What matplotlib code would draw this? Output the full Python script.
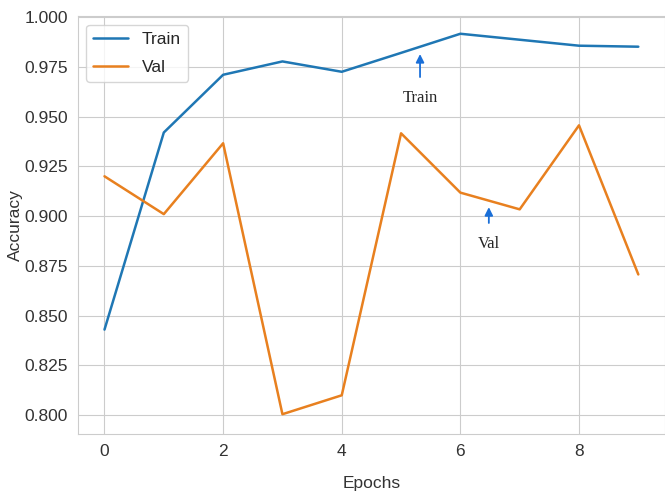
import numpy as np
import matplotlib
matplotlib.use("Agg")
import matplotlib.pyplot as plt
import seaborn as sns

epochs = np.arange(10)
train_acc = [0.843, 0.942, 0.971, 0.9777, 0.9725, 0.982, 0.9916, 0.9886, 0.9856, 0.9851]
val_acc = [0.920, 0.901, 0.9366, 0.8005, 0.810, 0.9416, 0.9118, 0.9034, 0.9456, 0.8707]

sns.set_style("whitegrid")
plt.rcParams['font.family'] = ['Liberation Sans', 'DejaVu Sans']

fig = plt.figure(figsize=(6.65, 4.95), dpi=100)
ax = fig.add_axes([0.117, 0.123, 0.883, 0.845])

ax.plot(epochs, train_acc, color='#1f77b4', lw=1.8, label='Train')
ax.plot(epochs, val_acc, color='#e8801f', lw=1.8, label='Val')

# arrow notes
ax.annotate('Train', xy=(5.32, 0.9814), xytext=(5.32, 0.9593),
            ha='center', va='center', fontsize=12, family='Liberation Serif',
            arrowprops=dict(arrowstyle='-|>', color='#1a6fd8', lw=1.3,
                            shrinkA=7, shrinkB=0))
ax.annotate('Val', xy=(6.48, 0.9045), xytext=(6.48, 0.886),
            ha='center', va='center', fontsize=12, family='Liberation Serif',
            arrowprops=dict(arrowstyle='-|>', color='#1a6fd8', lw=1.3,
                            shrinkA=7, shrinkB=0))

ax.set_xlim(-0.45, 9.45)
ax.set_ylim(0.7905, 1.0006)
ax.set_xticks([0, 2, 4, 6, 8])
ax.set_yticks(np.arange(0.800, 1.001, 0.025))
ax.yaxis.set_major_formatter(matplotlib.ticker.FormatStrFormatter('%.3f'))
ax.tick_params(labelsize=12.5, colors='#333333')
ax.set_xlabel('Epochs', fontsize=12.5, color='#333333', labelpad=12)
ax.set_ylabel('Accuracy', fontsize=12.5, color='#333333', labelpad=1)
ax.legend(loc='upper left', fontsize=12.5, labelspacing=0.75,
          borderaxespad=0.5)

fig.savefig('out.png', dpi=100)
